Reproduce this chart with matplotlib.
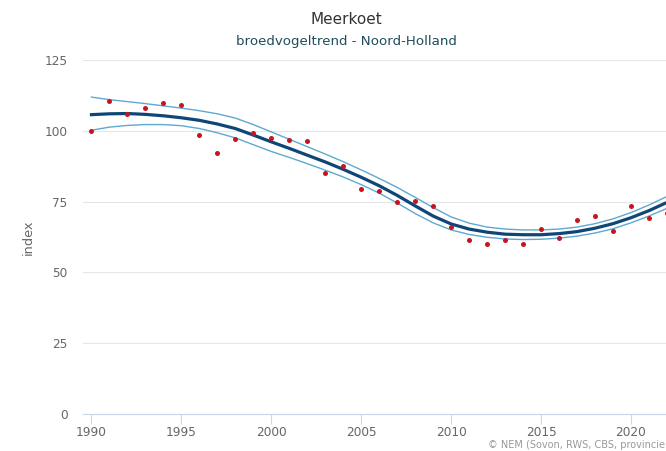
import matplotlib
matplotlib.use("Agg")
import matplotlib.pyplot as plt

years = list(range(1990, 2023))
index_values = [100.1, 110.5, 106.1, 108.1, 109.7, 109.0, 98.4, 92.0, 97.1, 99.2,
                97.3, 96.9, 96.4, 85.1, 87.5, 79.4, 78.6, 74.7, 75.1, 73.4,
                66.0, 61.4, 60.1, 61.3, 60.1, 65.4, 62.2, 68.6, 69.8, 64.6,
                73.4, 69.1, 70.9]
trend = [105.7, 106.0, 106.1, 105.8, 105.3, 104.6, 103.7, 102.4, 100.8, 98.5,
         96.1, 93.8, 91.4, 89.0, 86.4, 83.6, 80.6, 77.2, 73.5, 69.9,
         67.1, 65.3, 64.2, 63.5, 63.3, 63.3, 63.7, 64.4, 65.6, 67.2,
         69.3, 71.8, 74.7]
upper = [111.9, 111.0, 110.3, 109.6, 108.8, 108.0, 107.1, 106.0, 104.5, 102.2,
         99.6, 97.0, 94.4, 91.8, 89.1, 86.2, 83.2, 80.0, 76.5, 72.9,
         69.6, 67.4, 66.0, 65.3, 65.0, 65.0, 65.3, 66.0, 67.2, 68.9,
         71.1, 73.8, 76.8]
lower = [100.2, 101.3, 101.9, 102.2, 102.2, 101.8, 100.8, 99.3, 97.5, 95.1,
         92.7, 90.6, 88.4, 86.1, 83.7, 81.0, 78.0, 74.5, 70.8, 67.5,
         65.0, 63.4, 62.4, 61.8, 61.6, 61.7, 62.1, 62.8, 63.9, 65.4,
         67.5, 69.9, 72.6]
x_ticks = [1990, 1995, 2000, 2005, 2010, 2015, 2020]
y_ticks = [0, 25, 50, 75, 100, 125]

title = "Meerkoet"
subtitle = "broedvogeltrend - Noord-Holland"
credits = "© NEM (Sovon, RWS, CBS, provincie"

plt.rcParams['font.family'] = ['DejaVu Sans']

fig = plt.figure(figsize=(6.66, 4.51), dpi=100)
ax = fig.add_axes([83 / 666, 37 / 451, 1 - 83 / 666, 354 / 451])

ax.plot(years, upper, color='#5ea9cf', lw=1.0, zorder=2)
ax.plot(years, lower, color='#5ea9cf', lw=1.0, zorder=2)
ax.plot(years, trend, color='#0f4677', lw=2.3, zorder=3)
ax.plot(years, index_values, linestyle='none', marker='o', markersize=3.6,
        color='#c8141e', markeredgewidth=0, zorder=4)

ax.set_xlim(1989.53, 2021.95)
ax.set_ylim(0, 125)
ax.set_xticks(x_ticks)
ax.set_yticks(y_ticks)
ax.grid(axis='y', color='#e6e6e6', lw=0.8)
ax.set_axisbelow(True)
for s in ['top', 'right', 'left']:
    ax.spines[s].set_visible(False)
ax.spines['bottom'].set_color('#ccd6eb')
ax.spines['bottom'].set_linewidth(0.8)
ax.tick_params(axis='y', length=0, pad=11, labelsize=8.7, labelcolor='#666666')
ax.tick_params(axis='x', length=7, width=0.8, color='#ccd6eb', pad=1.5,
               labelsize=8.7, labelcolor='#666666')
ax.set_ylabel("index", fontsize=9.3, color='#666666', labelpad=7)

fig.text(346 / 666, 1 - 19 / 451, title, ha='center', va='center', fontsize=11,
         color='#333333')
fig.text(346 / 666, 1 - 41 / 451, subtitle, ha='center', va='center', fontsize=9.6,
         color='#1f4d5c')
fig.text(665 / 666, 1 - 445 / 451, credits, ha='right', va='center', fontsize=7,
         color='#999999')

fig.savefig("out.png", dpi=100)
